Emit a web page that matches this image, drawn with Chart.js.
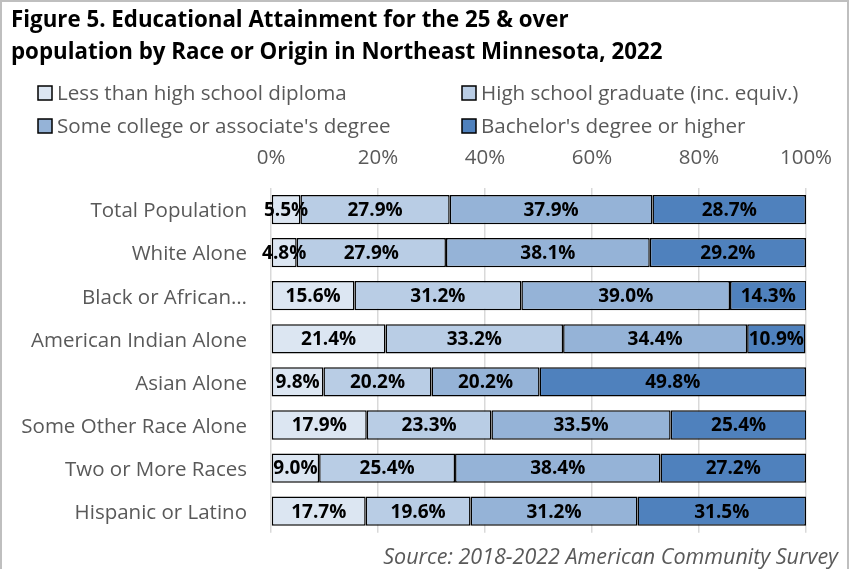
<!DOCTYPE html>
<html>
<head>
<meta charset="utf-8">
<script src="https://cdn.jsdelivr.net/npm/chart.js@4"></script>
<style>
html,body{margin:0;padding:0;background:#fff;}
#wrap{position:relative;width:853px;height:569px;}
canvas{display:block;}
</style>
</head>
<body>
<div id="wrap"><canvas id="c" width="853" height="569"></canvas></div>
<script>
const categories = ["Total Population","White Alone","Black or African\u2026","American Indian Alone","Asian Alone","Some Other Race Alone","Two or More Races","Hispanic or Latino"];
const seriesNames = ["Less than high school diploma","High school graduate (inc. equiv.)","Some college or associate's degree","Bachelor's degree or higher"];
const lessThanHS = [5.5, 4.8, 15.6, 21.4, 9.8, 17.9, 9.0, 17.7];
const hsGrad     = [27.9, 27.9, 31.2, 33.2, 20.2, 23.3, 25.4, 19.6];
const someCollege= [37.9, 38.1, 39.0, 34.4, 20.2, 33.5, 38.4, 31.2];
const bachelors  = [28.7, 29.2, 14.3, 10.9, 49.8, 25.4, 27.2, 31.5];
const tickValues = [0, 20, 40, 60, 80, 100];
const titleLines = ["Figure 5. Educational Attainment for the 25 & over","population by Race or Origin in Northeast Minnesota, 2022"];
const sourceText = "Source: 2018-2022 American Community Survey";

const colors = ["#DCE6F2","#B9CDE5","#95B3D7","#4F81BD"];
const FONT = "'Open Sans', sans-serif";
const GRAY = "#595959";

const seriesValues = [lessThanHS, hsGrad, someCollege, bachelors];

const decorPlugin = {
  id: 'decor',
  beforeDraw(chart) {
    const ctx = chart.ctx;
    ctx.save();
    ctx.fillStyle = '#fff';
    ctx.fillRect(0,0,chart.width,chart.height);
    ctx.strokeStyle = '#BFBFBF';
    ctx.lineWidth = 2;
    ctx.beginPath();
    ctx.moveTo(1, chart.height+2);
    ctx.lineTo(1, 1);
    ctx.lineTo(848, 1);
    ctx.lineTo(848, chart.height+2);
    ctx.stroke();
    ctx.fillStyle = '#000';
    ctx.font = "bold 22.3px " + FONT;
    ctx.textAlign = 'left';
    ctx.textBaseline = 'middle';
    ctx.fillText(titleLines[0], 11, 21);
    ctx.fillText(titleLines[1], 11, 53);
    const pos = [[38,93],[462,93],[38,126],[462,126]];
    ctx.font = "20.6px " + FONT;
    for (let i=0;i<4;i++){
      const [x,y] = pos[i];
      ctx.fillStyle = colors[i];
      ctx.fillRect(x, y-7, 14, 14);
      ctx.strokeStyle = '#000';
      ctx.lineWidth = 1.5;
      ctx.strokeRect(x, y-7, 14, 14);
      ctx.fillStyle = GRAY;
      ctx.fillText(seriesNames[i], x+19, y + 1);
    }
    ctx.font = "italic 21.5px " + FONT;
    ctx.textAlign = 'right';
    ctx.fillStyle = GRAY;
    ctx.fillText(sourceText, 838, 558);
    ctx.restore();
  },
  afterDatasetsDraw(chart) {
    const ctx = chart.ctx;
    ctx.save();
    ctx.font = "bold 19px " + FONT;
    ctx.fillStyle = '#000';
    ctx.textAlign = 'center';
    ctx.textBaseline = 'middle';
    chart.data.datasets.forEach((ds, di) => {
      const meta = chart.getDatasetMeta(di);
      meta.data.forEach((el, i) => {
        const v = ds.data[i];
        const cx = (el.x + el.base) / 2;
        ctx.fillText(v.toFixed(1) + '%', cx, el.y + 1);
      });
    });
    ctx.restore();
  }
};

new Chart(document.getElementById('c'), {
  type: 'bar',
  data: {
    labels: categories,
    datasets: seriesValues.map((vals, i) => ({
      label: seriesNames[i],
      data: vals,
      backgroundColor: colors[i],
      borderColor: '#000',
      borderWidth: 1.5,
      borderSkipped: false,
      barPercentage: 0.68,
      categoryPercentage: 1.0
    }))
  },
  options: {
    indexAxis: 'y',
    responsive: false,
    animation: false,
    devicePixelRatio: 1,
    layout: { padding: { left: 0, right: 47, top: 148, bottom: 29 } },
    plugins: { legend: { display: false }, title: { display: false }, tooltip: { enabled: false } },
    scales: {
      x: {
        position: 'top',
        stacked: true,
        min: 0, max: 100,
        afterBuildTicks(scale) { scale.ticks = tickValues.map(v => ({ value: v })); },
        afterFit(scale) { scale.height = 40; },
        ticks: {
          callback: v => v + '%',
          color: GRAY,
          font: { family: FONT, size: 20.5 },
          padding: 18,
          maxRotation: 0
        },
        grid: { color: '#D9D9D9', lineWidth: 1.5, drawTicks: false },
        border: { display: false }
      },
      y: {
        stacked: true,
        afterFit(scale) { scale.width = 271; },
        ticks: {
          color: GRAY,
          font: { family: FONT, size: 20.5 },
          padding: 24,
          labelOffset: 2
        },
        grid: { display: false, drawTicks: false },
        border: { display: false }
      }
    }
  },
  plugins: [decorPlugin]
});
</script>
</body>
</html>
